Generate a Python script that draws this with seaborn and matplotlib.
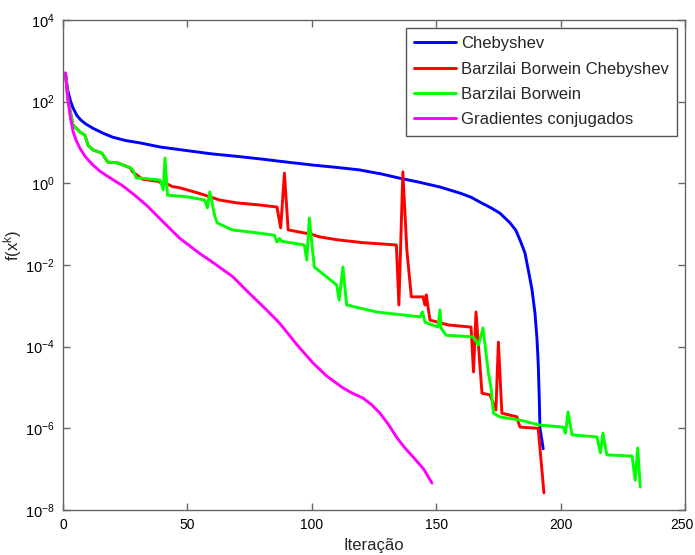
import numpy as np
import pandas as pd
import matplotlib
matplotlib.use("Agg")
import matplotlib.pyplot as plt
import matplotlib.transforms as mtransforms
import seaborn as sns
from matplotlib.ticker import FixedLocator, NullLocator

# ---------------- data (iteration, log10 f) ----------------
cheb_x = [1, 1.5, 2, 3, 4, 5.5, 7, 9, 12, 16, 20, 25, 31, 39, 50, 60, 70, 79, 90, 100,
          110, 119, 128, 135, 143, 151.5, 159.6, 164, 167.6, 172, 175.6, 179.7, 182,
          183.7, 185.7, 187, 188.5, 189.7, 190.5, 191, 191.4, 191.7, 192.5, 193]
cheb_log = [2.70, 2.45, 2.25, 2.02, 1.85, 1.67, 1.56, 1.46, 1.35, 1.23, 1.13, 1.05, 0.99,
            0.89, 0.80, 0.72, 0.66, 0.60, 0.52, 0.45, 0.39, 0.33, 0.23, 0.13, 0.03, -0.09,
            -0.24, -0.34, -0.46, -0.60, -0.73, -0.97, -1.15, -1.39, -1.71, -2.12, -2.6,
            -3.18, -3.8, -4.4, -5.2, -6.0, -6.3, -6.5]

bbc_x = [1, 2, 4, 6.8, 8.8, 10, 12, 15.6, 18, 22, 27, 28, 32, 38, 40, 42, 44, 47, 55, 63,
         70, 79, 86, 87.5, 89, 90.5, 100, 103, 110, 120, 134, 135, 136.6, 138.2, 140,
         144.7, 145.5, 146, 147.5, 155, 164, 165, 166, 168.4, 171.6, 174, 175, 176.4,
         182.5, 183, 183.7, 191, 193.3]
bbc_log = [2.70, 2.05, 1.43, 1.26, 1.18, 0.94, 0.82, 0.74, 0.52, 0.50, 0.38, 0.28, 0.10,
           0.05, 0.0, -0.02, -0.08, -0.11, -0.25, -0.41, -0.48, -0.53, -0.58, -1.09, 0.25,
           -1.14, -1.25, -1.31, -1.38, -1.45, -1.51, -2.98, 0.28, -1.63, -2.78, -2.78,
           -2.98, -2.73, -3.35, -3.47, -3.52, -4.62, -3.15, -5.14, -5.18, -5.55, -3.89,
           -5.63, -5.72, -5.85, -5.97, -6.0, -7.58]

bb_x = [1, 2, 4, 6.8, 8.8, 10, 12, 15.6, 18, 22, 27, 28, 29.5, 31, 39, 40.3, 41, 42, 50,
        57, 58, 59, 61, 62, 68, 79, 85, 86, 87, 88, 97, 98, 99, 101, 110, 111, 112.5, 114,
        126, 143.5, 144.5, 145.5, 150.7, 151.5, 152, 154, 164.8, 167, 168.8, 171, 172, 173,
        175.6, 183.7, 191.7, 201, 202, 203, 204.6, 214.6, 216, 217, 218.6, 228.7, 230,
        231, 232]
bb_log = [2.70, 2.05, 1.43, 1.26, 1.18, 0.94, 0.82, 0.74, 0.52, 0.50, 0.38, 0.33, 0.13,
          0.13, 0.08, -0.16, 0.62, -0.29, -0.33, -0.41, -0.60, -0.21, -0.80, -0.97, -1.14,
          -1.22, -1.27, -1.44, -1.35, -1.42, -1.51, -1.88, -0.85, -2.05, -2.49, -2.86,
          -2.05, -2.98, -3.15, -3.27, -3.15, -3.40, -3.52, -3.10, -3.55, -3.72, -3.76,
          -3.96, -3.54, -4.65, -4.99, -5.63, -5.72, -5.80, -5.92, -5.97, -6.12, -5.60,
          -6.16, -6.21, -6.60, -6.12, -6.65, -6.68, -7.27, -6.48, -7.44]

gc_x = [1, 1.5, 2.1, 3, 4.1, 5.3, 6.8, 9, 12, 15, 19, 24, 29, 33.8, 40, 47, 55, 61, 68.3,
        75, 81, 87, 94, 100.5, 106, 112.5, 116, 120.6, 124, 127.4, 131, 134, 137, 140.7,
        145, 148.3]
gc_log = [2.70, 2.35, 2.0, 1.6, 1.26, 1.05, 0.86, 0.65, 0.45, 0.29, 0.13, -0.06, -0.30,
          -0.55, -0.93, -1.35, -1.72, -1.97, -2.29, -2.70, -3.05, -3.42, -3.95, -4.40,
          -4.72, -5.01, -5.13, -5.26, -5.42, -5.63, -5.92, -6.21, -6.45, -6.70, -7.0,
          -7.34]

series_names = ["Chebyshev", "Barzilai Borwein Chebyshev", "Barzilai Borwein",
                "Gradientes conjugados"]
series_colors = ["#0000ff", "#ff0000", "#00ff00", "#ff00ff"]
x_ticks = [0, 50, 100, 150, 200, 250]
y_ticks = [1e-8, 1e-6, 1e-4, 1e-2, 1e0, 1e2, 1e4]

frames = []
for name, xs, ls in zip(series_names, [cheb_x, bbc_x, bb_x, gc_x],
                        [cheb_log, bbc_log, bb_log, gc_log]):
    frames.append(pd.DataFrame({"iter": xs, "f": np.power(10.0, ls), "method": name}))
df = pd.concat(frames, ignore_index=True)

# ---------------- styling ----------------
sns.set_theme(style="white")
plt.rcParams["font.family"] = ["Liberation Sans", "DejaVu Sans"]
plt.rcParams["mathtext.fontset"] = "custom"
plt.rcParams["mathtext.rm"] = "Liberation Sans"
plt.rcParams["mathtext.it"] = "Liberation Sans"
plt.rcParams["mathtext.bf"] = "Liberation Sans:bold"

fig = plt.figure(figsize=(6.95, 5.55), dpi=100)
ax = fig.add_axes([63 / 695, 45 / 555, 622 / 695, 490 / 555])

sns.lineplot(data=df, x="iter", y="f", hue="method", hue_order=series_names,
             palette=dict(zip(series_names, series_colors)), estimator=None,
             sort=False, linewidth=2.1, ax=ax)
for ln in ax.get_lines():
    ln.set_solid_joinstyle("round")

ax.set_yscale("log")
ax.set_xlim(0, 250)
ax.set_ylim(1e-8, 1e4)
ax.xaxis.set_major_locator(FixedLocator(x_ticks))
ax.yaxis.set_major_locator(FixedLocator(y_ticks))
ax.yaxis.set_minor_locator(NullLocator())
ax.xaxis.set_minor_locator(NullLocator())

spine_color = "#666666"
for s in ax.spines.values():
    s.set_visible(True)
    s.set_color(spine_color)
    s.set_linewidth(1.0)
ax.tick_params(axis="both", which="major", direction="in", length=5, width=1,
               color=spine_color, labelcolor="black", labelsize=10.5,
               top=True, right=True, bottom=True, left=True, pad=6)
ax.tick_params(axis="x", labelsize=10)

ax.set_xlabel("Iteração", fontsize=12, labelpad=4)
ax.set_ylabel("f(x$^{k}$)", fontsize=12)
ax.yaxis.set_label_coords(-(63 - 24) / 622, 0.54)

leg = ax.legend(loc="upper right", frameon=True, fancybox=False, framealpha=1,
                edgecolor="#555555", fontsize=12, handlelength=2.5,
                borderaxespad=0.48, labelspacing=0.62, handletextpad=0.3,
                borderpad=0.5)
leg.get_frame().set_linewidth(1.0)
for line in leg.get_lines():
    line.set_linewidth(2.1)

# nudge the last x tick label slightly inward so it stays inside the canvas
fig.canvas.draw()
last_tick = ax.xaxis.get_major_ticks()[-1]
last_tick.label1.set_transform(last_tick.label1.get_transform() +
                               mtransforms.ScaledTranslation(-3 / 100, 0, fig.dpi_scale_trans))

fig.savefig("out.png", dpi=100)
